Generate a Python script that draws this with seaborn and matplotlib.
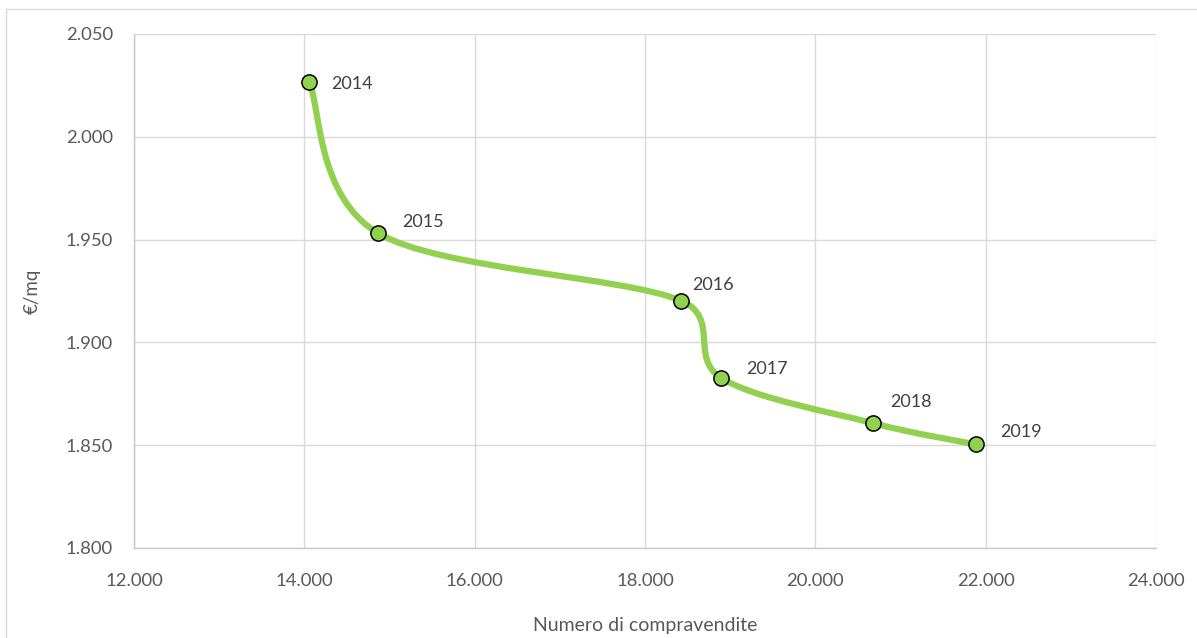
import numpy as np
import pandas as pd
import matplotlib
matplotlib.use("Agg")
import matplotlib.pyplot as plt
from matplotlib.path import Path
from matplotlib.patches import PathPatch
from matplotlib.lines import Line2D
from matplotlib.ticker import FuncFormatter, MultipleLocator
import seaborn as sns

# Compravendite e prezzi medi per anno
anni = ["2014", "2015", "2016", "2017", "2018", "2019"]
compravendite = [14058, 14868, 18422, 18892, 20680, 21883]
prezzo_mq = [2026.5, 1953.1, 1920.3, 1882.8, 1860.7, 1850.4]

df = pd.DataFrame({"anno": anni, "compravendite": compravendite, "prezzo": prezzo_mq})

sns.set_theme(style="white")
plt.rcParams["font.family"] = ["Lato", "DejaVu Sans"]

GREEN = "#92D050"
GRID = "#D9D9D9"
TICK = "#595959"

W, H = 1197, 638
fig = plt.figure(figsize=(W / 100, H / 100), dpi=100)
ax = fig.add_axes([134 / W, 1 - 548 / H, (1156 - 134) / W, (548 - 34) / H])

ax.set_xlim(12000, 24000)
ax.set_ylim(1800, 2050)
ax.xaxis.set_major_locator(MultipleLocator(2000))
ax.yaxis.set_major_locator(MultipleLocator(50))
fmt = FuncFormatter(lambda v, _: f"{v:,.0f}".replace(",", "."))
ax.xaxis.set_major_formatter(fmt)
ax.yaxis.set_major_formatter(fmt)

ax.grid(True, color=GRID, linewidth=1.0)
ax.set_axisbelow(True)
for side, sp in ax.spines.items():
    sp.set_visible(side in ("left", "bottom"))
    sp.set_color("#C8C8C8")
    sp.set_linewidth(1.0)
ax.tick_params(axis="both", length=0, labelsize=13.3, labelcolor=TICK)
ax.tick_params(axis="x", pad=18)
ax.tick_params(axis="y", pad=15)

ax.set_xlabel("Numero di compravendite", fontsize=14, color=TICK, labelpad=20)
ax.set_ylabel("€/mq", fontsize=13.5, color=TICK, labelpad=18)


def smooth_path(xs, ys):
    """Bezier path through the points with spreadsheet-style smoothing,
    control points computed in display space."""
    pts = ax.transData.transform(np.column_stack([xs, ys]))
    n = len(pts)
    verts = [pts[0]]
    codes = [Path.MOVETO]
    for i in range(n - 1):
        p0 = pts[i - 1] if i > 0 else pts[i]
        p1 = pts[i]
        p2 = pts[i + 1]
        p3 = pts[i + 2] if i + 2 < n else pts[i + 1]
        d12 = np.linalg.norm(p2 - p1)
        d02 = np.linalg.norm(p2 - p0)
        d13 = np.linalg.norm(p3 - p1)
        f1 = f2 = 1 / 6
        if d02 / 6 >= d12 / 2 and d02 > 0:
            f1 = d12 / 2 / d02
        if d13 / 6 >= d12 / 2 and d13 > 0:
            f2 = d12 / 2 / d13
        c1 = p1 + (p2 - p0) * f1
        c2 = p2 - (p3 - p1) * f2
        verts += [c1, c2, p2]
        codes += [Path.CURVE4] * 3
    verts = ax.transData.inverted().transform(np.array(verts))
    return Path(verts, codes)


curve = PathPatch(smooth_path(df["compravendite"].values, df["prezzo"].values),
                  facecolor="none", edgecolor=GREEN, linewidth=4.5,
                  capstyle="round", joinstyle="round", zorder=3)
ax.add_patch(curve)

sns.scatterplot(data=df, x="compravendite", y="prezzo", ax=ax, s=120,
                color=GREEN, edgecolor="black", linewidth=1.1, zorder=4,
                legend=False)

# label offsets in points (dx to text start, dy)
offsets = [(16, -1), (17, 8), (8, 11), (18, 6), (12, 15.5), (17.5, 9)]
for (_, r), (dx, dy) in zip(df.iterrows(), offsets):
    ax.annotate(r["anno"], (r["compravendite"], r["prezzo"]),
                xytext=(dx, dy), textcoords="offset points",
                ha="left", va="center", fontsize=13, color="#404040", zorder=5)

# chart-area border
fig.add_artist(Line2D([6 / W, 6 / W], [0, 1 - 9 / H], transform=fig.transFigure,
                      color=GRID, linewidth=1.0))
fig.add_artist(Line2D([6 / W, 1], [1 - 9 / H, 1 - 9 / H], transform=fig.transFigure,
                      color=GRID, linewidth=1.0))

fig.savefig("out.png", dpi=100)
